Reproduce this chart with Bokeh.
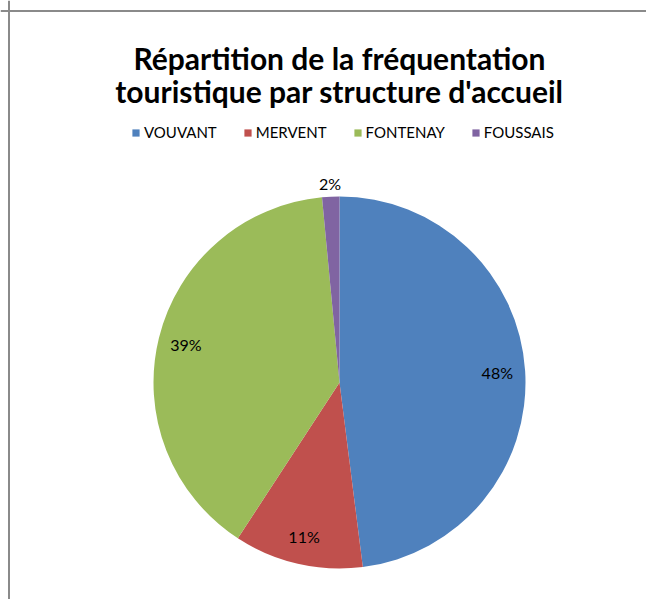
import numpy as np
from bokeh.plotting import figure
from bokeh.models import Range1d, Span, Label, Legend, LegendItem, ColumnDataSource
from bokeh.embed import file_html
from bokeh.resources import INLINE
from bokeh.core.properties import value

# ---- data ----
categories = ["VOUVANT", "MERVENT", "FONTENAY", "FOUSSAIS"]
values = [48.0, 11.2, 39.3, 1.5]
colors = ["#4F81BD", "#C0504D", "#9BBB59", "#8064A2"]
title_lines = ["Répartition de la fréquentation", "touristique par structure d'accueil"]

# ---- layout ----
W, H = 646, 599
cx, cy, r = 339, H - 382, 186

p = figure(width=W, height=H, x_range=Range1d(0, W), y_range=Range1d(0, H),
           output_backend="svg", toolbar_location=None, min_border=0,
           x_axis_location=None, y_axis_location=None,
           outline_line_color=None, border_fill_color="white",
           background_fill_color="white")
p.grid.visible = False

vals = np.array(values, dtype=float)
frac = vals / vals.sum()
cum = np.cumsum(frac)
start = np.pi / 2 - 2 * np.pi * (cum - frac)
end = np.pi / 2 - 2 * np.pi * cum

items = []
for i, cat in enumerate(categories):
    src = ColumnDataSource(dict(x=[cx], y=[cy], s=[start[i]], e=[end[i]]))
    rr = p.wedge(x="x", y="y", radius=r, start_angle="s", end_angle="e",
                 direction="clock", fill_color=colors[i], line_color=None, source=src)
    items.append(LegendItem(label=cat, renderers=[rr]))

# percentage labels
mid = (start + end) / 2
rad = np.where(frac < 0.05, 1.07 * r, 0.85 * r)
lx = cx + rad * np.cos(mid)
ly = cy + rad * np.sin(mid)
pct = [f"{int(f * 100 + 0.5)}%" for f in frac]
lsrc = ColumnDataSource(dict(x=lx, y=ly, t=pct))
p.text(x="x", y="y", text="t", source=lsrc, text_align="center",
       text_baseline="middle", text_font=value("Lato"),
       text_font_size="16px", text_color="black")

# title
for k, line in enumerate(title_lines):
    p.add_layout(Label(x=cx, y=H - 57 - 33 * k, text=line, text_align="center",
                       text_baseline="alphabetic", text_font="Lato",
                       text_font_style="bold", text_font_size="30px",
                       text_color="black"))

# legend
legend = Legend(items=items, orientation="horizontal", location=(131, H - 141),
                border_line_color=None, background_fill_alpha=0, padding=0,
                margin=0, spacing=26, glyph_width=9, glyph_height=9,
                label_standoff=4, label_text_font="Lato",
                label_text_font_size="15px", label_height=15,
                label_text_color="black")
p.add_layout(legend)

# chart frame (left and top edges visible)
p.add_layout(Span(location=8.5, dimension="height", line_color="#8a8a8a", line_width=2))
p.add_layout(Span(location=H - 10.5, dimension="width", line_color="#8a8a8a", line_width=2))

open("out.html", "w").write(file_html(p, INLINE))
